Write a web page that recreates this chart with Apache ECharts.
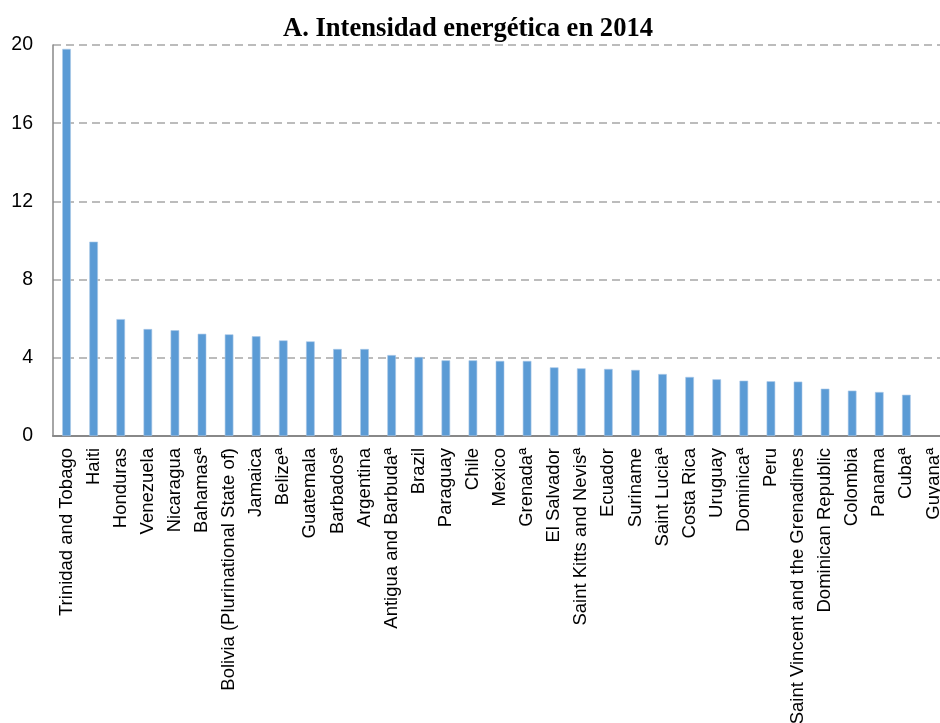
<!DOCTYPE html>
<html>
<head>
<meta charset="utf-8">
<script src="https://cdn.jsdelivr.net/npm/echarts@6/dist/echarts.min.js"></script>
<style>
  html, body { margin: 0; padding: 0; background: #fff; overflow: hidden; }
  /* the plot runs slightly past the right edge of the window */
  #chart { width: 960px; height: 723px; }
</style>
</head>
<body>
<div id="chart"></div>
<script>
// Energy intensity by country, 2014
const countries = [
  'Trinidad and Tobago', 'Haiti', 'Honduras', 'Venezuela', 'Nicaragua',
  'Bahamasª', 'Bolivia (Plurinational State of)', 'Jamaica', 'Belizeª',
  'Guatemala', 'Barbadosª', 'Argentina', 'Antigua and Barbudaª', 'Brazil',
  'Paraguay', 'Chile', 'Mexico', 'Grenadaª', 'El Salvador',
  'Saint Kitts and Nevisª', 'Ecuador', 'Suriname', 'Saint Luciaª',
  'Costa Rica', 'Uruguay', 'Dominicaª', 'Peru',
  'Saint Vincent and the Grenadines', 'Dominican Republic', 'Colombia',
  'Panama', 'Cubaª', 'Guyanaª'
];

const intensity = [
  19.8, 9.94, 5.98, 5.47, 5.41,
  5.23, 5.20, 5.10, 4.89,
  4.84, 4.45, 4.45, 4.14, 4.04,
  3.87, 3.87, 3.84, 3.84, 3.51,
  3.46, 3.43, 3.38, 3.17,
  3.02, 2.90, 2.83, 2.80,
  2.78, 2.42, 2.32,
  2.25, 2.11, null
];

const yTicks = { min: 0, max: 20, interval: 4 };

const chart = echarts.init(document.getElementById('chart'));
chart.setOption({
  animation: false,
  title: {
    text: 'A. Intensidad energética en 2014',
    left: 463,
    top: 11,
    textAlign: 'center',
    textStyle: {
      fontFamily: '"Liberation Serif", "Times New Roman", serif',
      fontWeight: 'bold',
      fontSize: 26.6,
      color: '#000'
    }
  },
  grid: { left: 53, top: 45, width: 894, height: 391, outerBoundsMode: 'none' },
  xAxis: {
    type: 'category',
    data: countries,
    axisLine: { lineStyle: { color: '#888', width: 2 } },
    axisTick: { show: false },
    axisLabel: {
      interval: 0,
      rotate: 90,
      margin: 12,
      fontSize: 18.5,
      fontFamily: '"Liberation Sans", Arial, sans-serif',
      color: '#000'
    }
  },
  yAxis: {
    type: 'value',
    min: yTicks.min,
    max: yTicks.max,
    interval: yTicks.interval,
    axisLine: { show: true, lineStyle: { color: '#888', width: 1.5 } },
    axisTick: { show: false },
    axisLabel: {
      margin: 20,
      fontSize: 19.5,
      fontFamily: '"Liberation Sans", Arial, sans-serif',
      color: '#000'
    },
    splitLine: {
      lineStyle: { color: '#a6a6a6', width: 1.5, type: [8, 5] }
    }
  },
  series: [{
    type: 'bar',
    data: intensity,
    barWidth: 8.6,
    itemStyle: { color: '#5b9bd5', borderColor: '#a9c8e8', borderWidth: 0.6 }
  }]
});
</script>
</body>
</html>
